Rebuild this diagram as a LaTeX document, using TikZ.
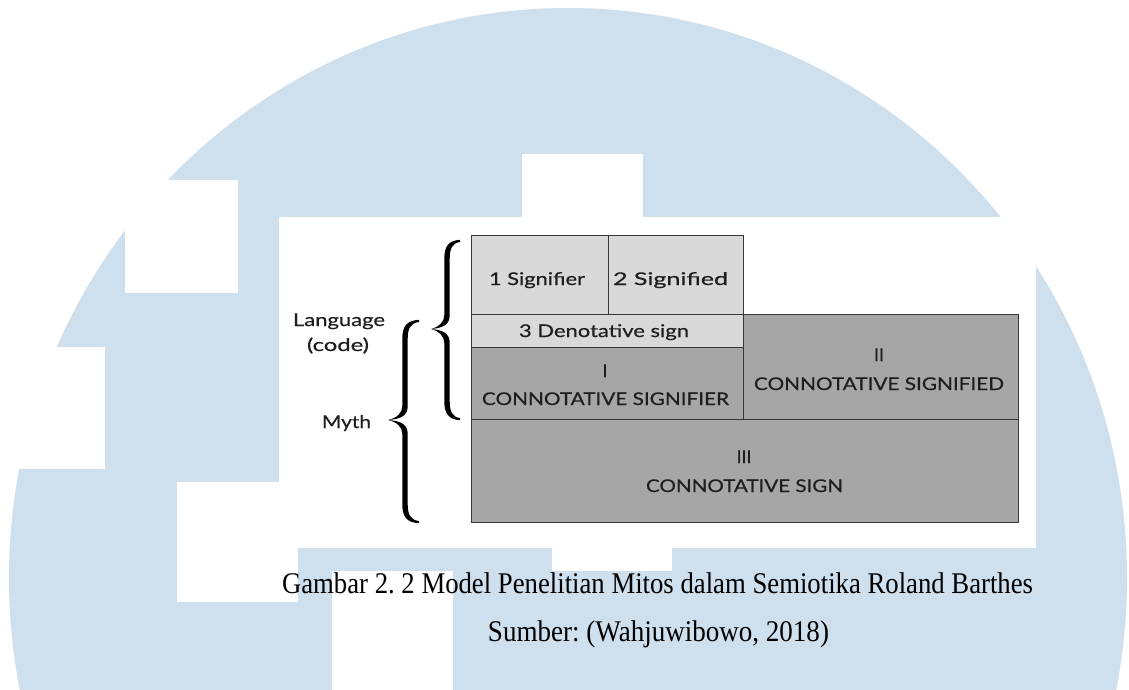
\documentclass[tikz,border=0pt]{standalone}
\usepackage{fontspec}
\usepackage{graphicx}
\setmainfont{Liberation Serif}
\newfontfamily\dgfont{Lato}[FakeBold=0.4]
\frenchspacing
\definecolor{wmblue}{RGB}{206,223,238}
\definecolor{lgray}{RGB}{217,217,217}
\definecolor{dgray}{RGB}{166,166,166}
\definecolor{edgecol}{RGB}{55,55,55}
\definecolor{txtcol}{RGB}{30,30,30}
\newcommand\tw[2]{\resizebox{#1pt}{\height}{#2}}
\newcommand\brc[6]{% #1 xc, #2 ytop, #3 ymid, #4 ybot, #5 xtip, #6 xend
\fill[black]
 (#6,#2+1) .. controls (#1+5,#2+2) and (#1+2.7,#2+8) .. (#1+2.7,#2+18)
 -- (#1+2.7,#3-14)
 .. controls (#1+2.7,#3-5) and (#1-3,#3-1) .. (#5,#3)
 .. controls (#1-3,#3+1) and (#1+2.7,#3+5) .. (#1+2.7,#3+14)
 -- (#1+2.7,#4-18)
 .. controls (#1+2.7,#4-8) and (#1+5,#4-2) .. (#6,#4-1)
 -- (#6,#4+1.2)
 .. controls (#1+1,#4+0.5) and (#1-2.7,#4-6) .. (#1-2.7,#4-18)
 -- (#1-2.7,#3+14)
 .. controls (#1-2.7,#3+7) and (#1-8,#3+2) .. (#5,#3)
 .. controls (#1-8,#3-2) and (#1-2.7,#3-7) .. (#1-2.7,#3-14)
 -- (#1-2.7,#2+18)
 .. controls (#1-2.7,#2+6) and (#1+1,#2-0.5) .. (#6,#2-1.2) -- cycle;}

\begin{document}
\begin{tikzpicture}[x=1pt,y=-1pt,
  lbox/.style={draw=edgecol, line width=1pt, fill=lgray, inner sep=0pt, anchor=north west},
  dbox/.style={draw=edgecol, line width=1pt, fill=dgray, inner sep=0pt, anchor=north west},
  dtxt/.style={font=\dgfont\fontsize{17.5}{19}\selectfont, text=txtcol, inner sep=0pt, anchor=base},
  captxt/.style={font=\fontsize{30}{32}\selectfont, text=black, inner sep=0pt, anchor=base}]
\useasboundingbox (0,0) rectangle (1129,690);
\clip (0,0) rectangle (1129,690);
% watermark
\fill[wmblue] (568,578) ellipse [x radius=559pt, y radius=570pt];
\fill[white] (279,217) rectangle (1036,548);
\fill[white] (177,482) rectangle (298,602);
\fill[white] (332,571) rectangle (453,690);
\fill[white] (552,548) rectangle (672,571);
\fill[white] (522,154) rectangle (643,217);
\fill[white] (125,180) rectangle (238,293);
\fill[white] (0,347) rectangle (105,469);
% boxes
\node[lbox, minimum width=137pt, minimum height=79pt] (sig1) at (471,235) {};
\node[lbox, minimum width=135pt, minimum height=79pt] (sig2) at (608,235) {};
\node[lbox, minimum width=272pt, minimum height=33pt] (den) at (471,314) {};
\node[dbox, minimum width=275pt, minimum height=105pt] (csd) at (743,314) {};
\node[dbox, minimum width=272pt, minimum height=72pt] (csr) at (471,347) {};
\node[dbox, minimum width=547pt, minimum height=103pt] (cs) at (471,419) {};
% texts
\node[dtxt] (t1) at (537,285) {\tw{96}{1 Signifier}};
\node[dtxt] (t2) at (670.5,285) {\tw{115}{2 Signified}};
\node[dtxt] (t3) at (604,337) {\tw{170}{3 Denotative sign}};
\node[dtxt] (t4a) at (605,377) {I};
\node[dtxt] (t4b) at (605.5,405) {\tw{247}{CONNOTATIVE SIGNIFIER}};
\node[dtxt] (t5a) at (879,361) {II};
\node[dtxt] (t5b) at (879,390) {\tw{250}{CONNOTATIVE SIGNIFIED}};
\node[dtxt] (t6a) at (744,463) {III};
\node[dtxt] (t6b) at (744.5,492) {\tw{197}{CONNOTATIVE SIGN}};
\node[dtxt] (lang) at (339,326) {\tw{92}{Language}};
\node[dtxt] (code) at (338,351) {\tw{62}{(code)}};
\node[dtxt] (myth) at (346.5,428) {\tw{49}{Myth}};
% braces
\brc{447}{241}{329}{419}{431}{460}
\brc{405}{321}{420}{522}{388}{419}
% caption
\node[captxt] (cap1) at (657.5,593) {\tw{751}{Gambar 2. 2 Model Penelitian Mitos dalam Semiotika Roland Barthes}};
\node[captxt] (cap2) at (658.5,641) {\tw{341}{Sumber: (Wahjuwibowo, 2018)}};
\end{tikzpicture}
\end{document}
